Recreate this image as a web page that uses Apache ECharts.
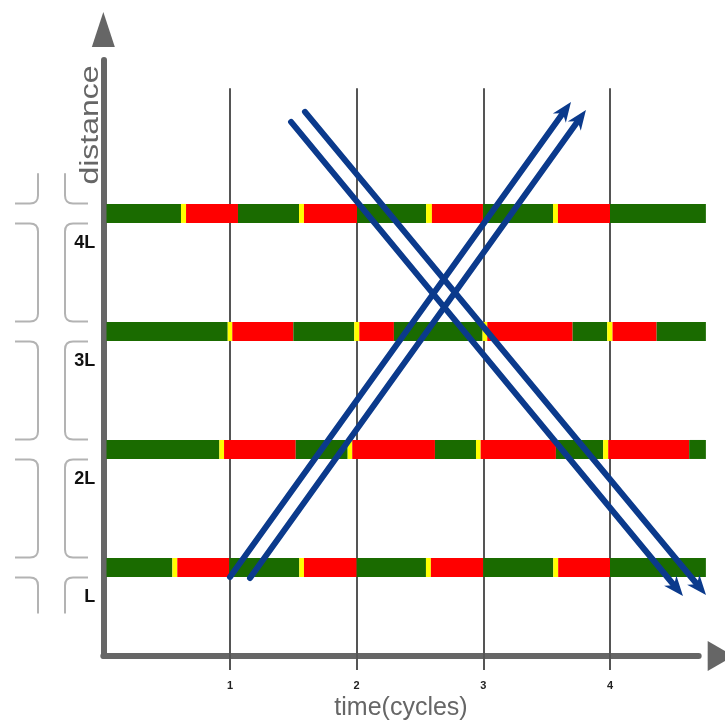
<!DOCTYPE html>
<html><head><meta charset="utf-8">
<script src="https://cdn.jsdelivr.net/npm/echarts@6/dist/echarts.min.js"></script>
<style>html,body{margin:0;padding:0;background:#fff}#c{width:725px;height:726px}</style>
</head><body><div id="c"></div>
<script>
// ---- data ----
const cycleTicks = [1, 2, 3, 4];
const rowValues = [1, 2, 3, 4];
const rowLabels = ['L', '2L', '3L', '4L'];
const phaseNames = ['G', 'Y', 'R'];
const phaseOrder = ['G','Y','R','G','Y','R','G','Y','R','G','Y','R','G'];
const rowLTimes  = [0.025, 0.545, 0.584, 0.994, 1.547, 1.584, 2.0,   2.547, 2.586, 2.999, 3.552, 3.591, 4.0,   4.757];
const row2LTimes = [0.025, 0.916, 0.953, 1.519, 1.929, 1.965, 2.618, 2.942, 2.979, 3.573, 3.946, 3.986, 4.625, 4.757];
const row3LTimes = [0.025, 0.982, 1.018, 1.5,   1.981, 2.021, 2.294, 2.994, 3.031, 3.705, 3.978, 4.02,  4.368, 4.757];
const row4LTimes = [0.025, 0.613, 0.653, 1.063, 1.545, 1.584, 2.003, 2.548, 2.594, 2.997, 3.55,  3.589, 4.0,   4.757];
// trajectories: [startTime, startDistance, endTime, endDistance] (end = arrow tip)
const northA = [1.0, 0.919, 3.692, 4.945];
const northB = [1.158, 0.911, 3.81, 4.877];
const southA = [1.482, 4.775, 4.576, 0.758];
const southB = [1.592, 4.86, 4.758, 0.767];
const gridLineTop = 5.06;
const streetTopEnd = 4.34;
const streetBottomEnd = 0.61;

// ---- build ----
const phaseColors = { G: '#1a6b00', Y: '#ffff00', R: '#ff0000' };
const rowTimes = [rowLTimes, row2LTimes, row3LTimes, row4LTimes];
const barData = [];
rowTimes.forEach((times, i) => {
  for (let k = 0; k < times.length - 1; k++) {
    barData.push([times[k], times[k + 1], rowValues[i], phaseNames.indexOf(phaseOrder[k])]);
  }
});
const blocks = [[streetTopEnd, rowValues[3], 0, 1]];
for (let i = rowValues.length - 1; i > 0; i--) blocks.push([rowValues[i], rowValues[i - 1], 1, 1]);
blocks.push([rowValues[0], streetBottomEnd, 1, 0]);

const gridLineData = cycleTicks.map(t => ({ coords: [[t, gridLineTop], [t, 0.25]] }));
const trajData = [northA, northB, southA, southB];

const chart = echarts.init(document.getElementById('c'), null, { renderer: 'canvas' });
const axisGray = '#666';
const blue = '#0b3a8c';
chart.setOption({
  animation: false,
  grid: { left: 103.33, right: 26.33, top: 60, bottom: 70 },
  xAxis: {
    type: 'value', min: 0, max: 4.7,
    name: 'time(cycles)', nameLocation: 'middle', nameGap: 39,
    nameTextStyle: { fontSize: 25, color: '#666', fontFamily: 'Liberation Sans' },
    axisLine: { show: true, symbol: ['none', 'triangle'], symbolSize: [30, 26], symbolOffset: [0, 22],
      lineStyle: { color: axisGray, width: 6, cap: 'round' } },
    axisTick: { show: true, length: 14, customValues: cycleTicks, lineStyle: { color: '#555', width: 2 } },
    axisLabel: { customValues: cycleTicks, margin: 24, fontSize: 11, fontWeight: 'bold', color: '#222', fontFamily: 'Liberation Sans' },
    splitLine: { show: false }
  },
  yAxis: {
    type: 'value', min: 0.25, max: 5.3,
    axisLine: { show: true, symbol: ['none', 'triangle'], symbolSize: [23, 35], symbolOffset: [0, 30.5],
      lineStyle: { color: axisGray, width: 6, cap: 'round' } },
    axisTick: { show: false },
    axisLabel: { customValues: rowValues, formatter: v => rowLabels[rowValues.indexOf(v)] || '',
      margin: 8, fontSize: 18, fontWeight: 'bold', color: '#111', fontFamily: 'Liberation Sans',
      verticalAlign: 'top', lineHeight: 18, padding: [21, 0, 0, 0] },
    splitLine: { show: false }
  },
  graphic: [{
    type: 'text', x: 91, y: 125, rotation: Math.PI / 2, scaleX: 1.28,
    style: { text: 'distance', font: '25px "Liberation Sans"', fill: '#666', align: 'center', verticalAlign: 'middle' }
  }],
  series: [
    {
      type: 'lines', coordinateSystem: 'cartesian2d', z: 1, silent: true,
      lineStyle: { color: '#555', width: 2, opacity: 1 }, symbol: 'none',
      data: gridLineData
    },
    {
      type: 'custom', z: 2, clip: false, silent: true,
      encode: { x: [0, 1], y: 2 },
      data: barData,
      renderItem: (params, api) => {
        const s = api.coord([api.value(0), api.value(2)]);
        const e = api.coord([api.value(1), api.value(2)]);
        return { type: 'rect', shape: { x: s[0], y: s[1] - 9.5, width: e[0] - s[0], height: 19 },
          style: { fill: phaseColors[phaseNames[api.value(3)]] } };
      }
    },
    {
      type: 'custom', z: 2, clip: false, silent: true,
      encode: { y: [0, 1] },
      data: blocks,
      renderItem: (params, api) => {
        const top = api.coord([0, api.value(0)])[1];
        const bot = api.coord([0, api.value(1)])[1];
        const ts = api.value(2) === 1, bs = api.value(3) === 1;
        const yt = ts ? top + 10 : top;
        const yb = bs ? bot - 10 : bot;
        const r = 8;
        function piece(edge, outer) {
          const dir = outer < edge ? -1 : 1;
          let d = '';
          if (ts) d += `M${outer} ${yt} L${edge + dir * r} ${yt} Q${edge} ${yt} ${edge} ${yt + r} `;
          else d += `M${edge} ${yt} `;
          if (bs) d += `L${edge} ${yb - r} Q${edge} ${yb} ${edge + dir * r} ${yb} L${outer} ${yb}`;
          else d += `L${edge} ${yb}`;
          return { type: 'path', shape: { pathData: d }, style: { fill: null, stroke: '#b3b3b3', lineWidth: 2 } };
        }
        return { type: 'group', children: [piece(38, 15), piece(65, 88)] };
      }
    },
    {
      type: 'custom', z: 3, clip: false, silent: true,
      encode: { x: [0, 2], y: [1, 3] },
      data: trajData,
      renderItem: (params, api) => {
        const p0 = api.coord([api.value(0), api.value(1)]);
        const p1 = api.coord([api.value(2), api.value(3)]);
        const dx = p1[0] - p0[0], dy = p1[1] - p0[1];
        const len = Math.sqrt(dx * dx + dy * dy);
        const ux = dx / len, uy = dy / len, nx = -uy, ny = ux;
        const L = 20, W = 8, notch = 14;
        const bx = p1[0] - ux * L, by = p1[1] - uy * L;
        const mx = p1[0] - ux * notch, my = p1[1] - uy * notch;
        return { type: 'group', children: [
          { type: 'line', shape: { x1: p0[0], y1: p0[1], x2: mx, y2: my },
            style: { stroke: blue, lineWidth: 6, lineCap: 'round' } },
          { type: 'polygon', shape: { points: [[p1[0], p1[1]], [bx + nx * W, by + ny * W], [mx, my], [bx - nx * W, by - ny * W]] },
            style: { fill: blue } }
        ] };
      }
    }
  ]
});
</script>
</body></html>
